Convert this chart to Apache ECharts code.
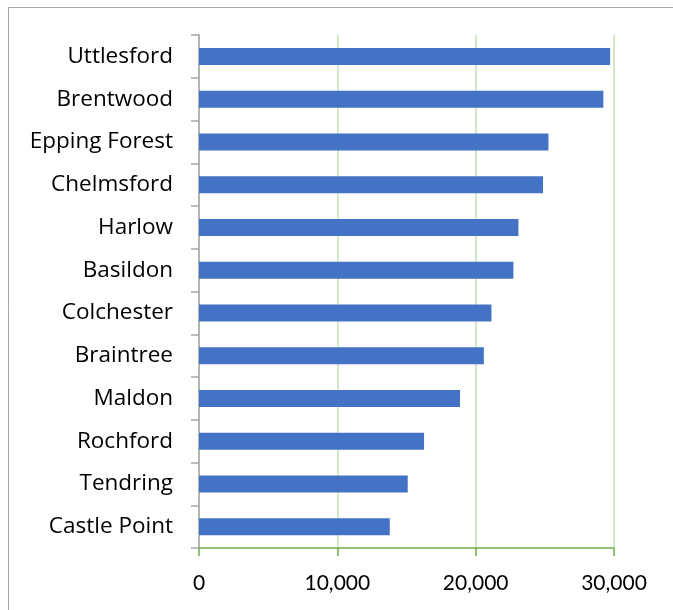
<!DOCTYPE html>
<html>
<head>
<meta charset="utf-8">
<script src="https://cdn.jsdelivr.net/npm/echarts@6/dist/echarts.min.js"></script>
<style>
html,body{margin:0;padding:0;background:#fff;overflow:hidden;}
#chart{width:673px;height:610px;}
</style>
</head>
<body>
<div id="chart"></div>
<script>
const categories = ["Uttlesford","Brentwood","Epping Forest","Chelmsford","Harlow","Basildon","Colchester","Braintree","Maldon","Rochford","Tendring","Castle Point"];
const values = [29720, 29230, 25260, 24870, 23090, 22730, 21140, 20590, 18870, 16270, 15090, 13790];
const xTicks = [0, 10000, 20000, 30000];

const chart = echarts.init(document.getElementById('chart'));
chart.setOption({
  animation: false,
  graphic: [{
    type: 'rect',
    shape: {x: 8.5, y: 7.5, width: 800, height: 800},
    style: {fill: 'none', stroke: '#a6a6a6', lineWidth: 1},
    silent: true, z: -1
  }],
  grid: {left: 199, right: 59, top: 35, bottom: 62, containLabel: false},
  xAxis: {
    type: 'value',
    min: xTicks[0], max: xTicks[xTicks.length-1], interval: 10000,
    axisLine: {show: true, lineStyle: {color: '#70ad47', width: 1.5}},
    axisTick: {show: true, length: 8, lineStyle: {color: '#70ad47', width: 1.5}},
    splitLine: {show: true, lineStyle: {color: '#c5e0b4', width: 1.5}},
    axisLabel: {
      color: '#000', fontSize: 21, fontFamily: 'Lato, "Open Sans", sans-serif', margin: 25,
      formatter: v => v.toLocaleString('en-US')
    }
  },
  yAxis: {
    type: 'category', inverse: true, data: categories,
    axisLine: {show: true, lineStyle: {color: '#a6a6a6', width: 1.5}},
    axisTick: {show: true, length: 8, lineStyle: {color: '#a6a6a6', width: 1.5}},
    axisLabel: {color: '#000', fontSize: 22.5, fontFamily: '"Open Sans", Lato, sans-serif', margin: 26, padding: [4, 0, 0, 0]}
  },
  series: [{
    type: 'bar', data: values, barWidth: 17,
    itemStyle: {color: '#4472c4'}
  }]
});
</script>
</body>
</html>
